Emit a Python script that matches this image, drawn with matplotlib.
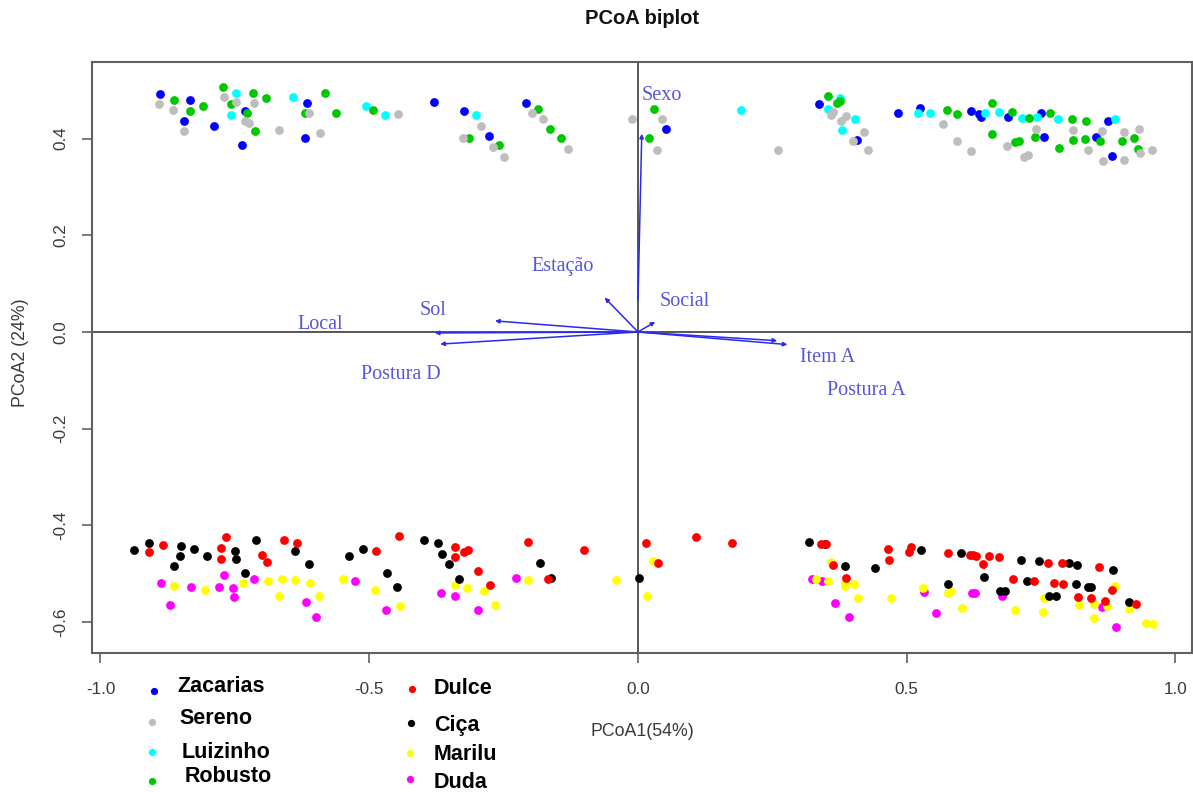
import matplotlib
matplotlib.use("Agg")
import matplotlib.pyplot as plt
from matplotlib.lines import Line2D

# ---- data ------------------------------------------------------------------
# upper group
zacarias_x = [-0.890, -0.833, -0.844, -0.788, -0.732, -0.737, -0.616, -0.620, -0.379, -0.323,
              -0.278, -0.209, 0.053, 0.336, 0.407, 0.483, 0.525, 0.620, 0.635, 0.638,
              0.688, 0.749, 0.755, 0.853, 0.874, 0.882]
zacarias_y = [0.492, 0.480, 0.437, 0.426, 0.458, 0.386, 0.473, 0.401, 0.475, 0.458,
              0.405, 0.473, 0.420, 0.471, 0.398, 0.453, 0.463, 0.458, 0.451, 0.444,
              0.444, 0.453, 0.403, 0.403, 0.437, 0.363]

luizinho_x = [-0.747, -0.757, -0.641, -0.506, -0.471, -0.301, 0.192, 0.376, 0.354, 0.404,
              0.380, 0.521, 0.543, 0.646, 0.672, 0.714, 0.743, 0.781, 0.888]
luizinho_y = [0.495, 0.449, 0.485, 0.468, 0.448, 0.449, 0.460, 0.483, 0.461, 0.440,
              0.418, 0.453, 0.453, 0.453, 0.455, 0.442, 0.445, 0.440, 0.440]

robusto_x = [-0.864, -0.833, -0.809, -0.773, -0.757, -0.716, -0.692, -0.727, -0.713, -0.583,
             -0.620, -0.561, -0.493, -0.314, -0.258, -0.186, -0.164, -0.143, 0.030, 0.020,
             0.353, 0.370, 0.375, 0.575, 0.594, 0.659, 0.696, 0.659, 0.701, 0.709,
             0.728, 0.766, 0.738, 0.807, 0.833, 0.809, 0.831, 0.784, 0.860, 0.900,
             0.923, 0.930]
robusto_y = [0.480, 0.458, 0.468, 0.507, 0.471, 0.495, 0.483, 0.452, 0.416, 0.495,
             0.453, 0.453, 0.460, 0.401, 0.386, 0.462, 0.420, 0.401, 0.462, 0.401,
             0.489, 0.473, 0.478, 0.460, 0.451, 0.473, 0.455, 0.409, 0.392, 0.394,
             0.442, 0.453, 0.403, 0.440, 0.437, 0.398, 0.400, 0.381, 0.395, 0.395,
             0.401, 0.379]

sereno_x = [-0.892, -0.866, -0.845, -0.771, -0.747, -0.714, -0.731, -0.724, -0.667, -0.612,
            -0.592, -0.446, -0.293, -0.325, -0.270, -0.249, -0.198, -0.176, -0.131, -0.011,
            0.045, 0.035, 0.260, 0.362, 0.360, 0.387, 0.377, 0.420, 0.400, 0.428,
            0.567, 0.594, 0.620, 0.687, 0.718, 0.725, 0.740, 0.810, 0.837, 0.864,
            0.866, 0.905, 0.933, 0.905, 0.934, 0.956]
sereno_y = [0.471, 0.460, 0.416, 0.485, 0.475, 0.473, 0.437, 0.433, 0.418, 0.453,
            0.411, 0.451, 0.426, 0.401, 0.383, 0.361, 0.452, 0.440, 0.379, 0.440,
            0.440, 0.377, 0.377, 0.456, 0.449, 0.447, 0.437, 0.414, 0.395, 0.376,
            0.431, 0.395, 0.375, 0.385, 0.361, 0.366, 0.420, 0.418, 0.376, 0.416,
            0.354, 0.413, 0.420, 0.356, 0.371, 0.376]

# lower group
duda_x = [-0.888, -0.870, -0.831, -0.780, -0.771, -0.753, -0.751, -0.714, -0.618, -0.599,
          -0.526, -0.469, -0.366, -0.341, -0.297, -0.227, 0.323, 0.343, 0.366, 0.392,
          0.532, 0.554, 0.622, 0.627, 0.677, 0.864, 0.890]
duda_y = [-0.520, -0.565, -0.528, -0.528, -0.502, -0.530, -0.548, -0.511, -0.559, -0.589,
          -0.514, -0.576, -0.540, -0.545, -0.575, -0.508, -0.510, -0.516, -0.560, -0.590,
          -0.538, -0.582, -0.540, -0.540, -0.545, -0.568, -0.611]

marilu_x = [-0.864, -0.806, -0.735, -0.688, -0.663, -0.667, -0.639, -0.610, -0.594, -0.548,
            -0.489, -0.442, -0.341, -0.319, -0.286, -0.266, -0.205, -0.041, 0.028, 0.016,
            0.360, 0.385, 0.386, 0.401, 0.331, 0.353, 0.409, 0.470, 0.530, 0.576,
            0.582, 0.602, 0.701, 0.755, 0.753, 0.821, 0.849, 0.849, 0.873, 0.888,
            0.914, 0.945, 0.958]
marilu_y = [-0.525, -0.533, -0.520, -0.516, -0.511, -0.547, -0.513, -0.520, -0.547, -0.510,
            -0.533, -0.567, -0.524, -0.530, -0.535, -0.565, -0.513, -0.513, -0.473, -0.547,
            -0.476, -0.519, -0.526, -0.522, -0.510, -0.516, -0.550, -0.550, -0.529, -0.540,
            -0.535, -0.571, -0.576, -0.551, -0.579, -0.564, -0.562, -0.591, -0.567, -0.525,
            -0.572, -0.602, -0.604]

cica_x = [-0.938, -0.910, -0.863, -0.851, -0.852, -0.826, -0.801, -0.749, -0.747, -0.731,
          -0.711, -0.639, -0.613, -0.537, -0.511, -0.467, -0.448, -0.398, -0.372, -0.364,
          -0.352, -0.333, -0.182, -0.162, 0.002, 0.319, 0.347, 0.385, 0.441, 0.527,
          0.601, 0.643, 0.577, 0.673, 0.682, 0.712, 0.723, 0.746, 0.765, 0.778,
          0.801, 0.817, 0.814, 0.838, 0.842, 0.883, 0.913]
cica_y = [-0.451, -0.436, -0.485, -0.442, -0.463, -0.448, -0.463, -0.453, -0.469, -0.498,
          -0.431, -0.453, -0.480, -0.463, -0.448, -0.498, -0.528, -0.431, -0.436, -0.460,
          -0.480, -0.511, -0.478, -0.508, -0.508, -0.434, -0.438, -0.485, -0.489, -0.451,
          -0.457, -0.506, -0.522, -0.535, -0.535, -0.471, -0.514, -0.474, -0.545, -0.545,
          -0.478, -0.482, -0.522, -0.528, -0.528, -0.493, -0.558]

dulce_x = [-0.910, -0.884, -0.766, -0.775, -0.775, -0.700, -0.690, -0.659, -0.634, -0.488,
           -0.444, -0.341, -0.340, -0.323, -0.317, -0.297, -0.276, -0.205, -0.168, -0.100,
           0.014, 0.037, 0.108, 0.175, 0.340, 0.349, 0.362, 0.387, 0.465, 0.467,
           0.505, 0.508, 0.577, 0.618, 0.623, 0.628, 0.641, 0.653, 0.672, 0.697,
           0.737, 0.763, 0.774, 0.791, 0.788, 0.857, 0.818, 0.843, 0.869, 0.882,
           0.926]
dulce_y = [-0.456, -0.441, -0.423, -0.447, -0.469, -0.462, -0.476, -0.431, -0.436, -0.453,
           -0.421, -0.445, -0.466, -0.455, -0.450, -0.495, -0.524, -0.434, -0.511, -0.451,
           -0.437, -0.478, -0.424, -0.436, -0.438, -0.438, -0.482, -0.509, -0.448, -0.471,
           -0.455, -0.445, -0.457, -0.461, -0.462, -0.463, -0.479, -0.463, -0.466, -0.510,
           -0.516, -0.478, -0.520, -0.522, -0.478, -0.486, -0.549, -0.551, -0.556, -0.534,
           -0.562]

# (name, color, x, y) in drawing order
groups = [
    ("Zacarias", "#0000FF", zacarias_x, zacarias_y),
    ("Luizinho", "#00FFFF", luizinho_x, luizinho_y),
    ("Robusto", "#00C800", robusto_x, robusto_y),
    ("Sereno", "#BEBEBE", sereno_x, sereno_y),
    ("Duda", "#FF00FF", duda_x, duda_y),
    ("Marilu", "#FFFF00", marilu_x, marilu_y),
    ("Ciça", "#000000", cica_x, cica_y),
    ("Dulce", "#FF0000", dulce_x, dulce_y),
]

# biplot vectors
vec_x0 = [0, 0, 0, 0, 0, 0, 0, 0.0]
vec_y0 = [0, 0, 0, 0, 0, 0, 0, 0.066]
vec_x1 = [-0.378, -0.266, -0.368, -0.062, 0.032, 0.278, 0.259, 0.007]
vec_y1 = [-0.002, 0.023, -0.025, 0.071, 0.021, -0.026, -0.018, 0.410]

var_names = ["Sexo", "Estação", "Social", "Sol", "Local", "Postura D", "Item A", "Postura A"]
var_x = [0.045, -0.140, 0.087, -0.381, -0.592, -0.442, 0.353, 0.424]
var_y = [0.489, 0.135, 0.063, 0.044, 0.016, -0.087, -0.052, -0.122]

x_ticks = [-1.0, -0.5, 0.0, 0.5, 1.0]
y_ticks = [-0.6, -0.4, -0.2, 0.0, 0.2, 0.4]

# legend layout: (name, color, marker px, text px) in reference pixels
legend_items = [
    ("Zacarias", "#0000FF", (154, 691), (177, 686)),
    ("Sereno", "#BEBEBE", (152, 722), (179, 718)),
    ("Luizinho", "#00FFFF", (152, 752), (182, 753)),
    ("Robusto", "#00C800", (152, 781), (185, 777)),
    ("Dulce", "#FF0000", (412, 689), (434, 689)),
    ("Ciça", "#000000", (411, 723), (434, 726)),
    ("Marilu", "#FFFF00", (410, 753), (434, 755)),
    ("Duda", "#FF00FF", (410, 779), (434, 782)),
]

W, H = 1193, 792
SANS = ["Liberation Sans", "DejaVu Sans"]
SERIF = ["Liberation Serif", "DejaVu Serif"]
plt.rcParams["font.family"] = SANS


def fx(px):
    return px / W


def fy(py):
    return 1 - py / H


fig = plt.figure(figsize=(W / 100, H / 100), dpi=100)
ax = fig.add_axes([fx(92), fy(653), fx(1192) - fx(92), fy(62) - fy(653)])

for name, color, xs, ys in groups:
    ax.scatter(xs, ys, s=40, color=color, linewidths=0, zorder=3)

ax.axhline(0, color="#3a3a3a", lw=1.2, zorder=1)
ax.axvline(0, color="#3a3a3a", lw=1.2, zorder=1)

for x0, y0, x1, y1 in zip(vec_x0, vec_y0, vec_x1, vec_y1):
    ax.annotate("", xy=(x1, y1), xytext=(x0, y0),
                arrowprops=dict(arrowstyle="-|>", color="#2a2af0", lw=1.1,
                                mutation_scale=6, shrinkA=0, shrinkB=0),
                zorder=4)
for name, x, y in zip(var_names, var_x, var_y):
    ax.text(x, y, name, family=SERIF, fontsize=14.5, color="#5656DC",
            ha="center", va="center", zorder=5)

ax.set_xlim(-1.0158, 1.0307)
ax.set_ylim(-0.6639, 0.5584)
ax.set_xticks(x_ticks)
ax.set_xticklabels([f"{t:.1f}" for t in x_ticks])
ax.set_yticks(y_ticks)
ax.set_yticklabels([f"{t:.1f}" for t in y_ticks], rotation=90, va="center")
ax.tick_params(axis="both", direction="out", length=7, width=1.1, color="#555555",
               labelsize=12.3, labelcolor="#3a3a3a")
ax.tick_params(axis="x", pad=14)
ax.tick_params(axis="y", pad=10)
for sp in ax.spines.values():
    sp.set_color("#606060")
    sp.set_linewidth(1.5)

fig.text(fx(642), fy(19), "PCoA biplot", ha="center", va="center",
         fontsize=14.5, fontweight="bold", color="#111111")
fig.text(fx(642), fy(732), "PCoA1(54%)", ha="center", va="center",
         fontsize=12.8, color="#3a3a3a")
fig.text(fx(21), fy(353), "PCoA2 (24%)", ha="center", va="center",
         rotation=90, fontsize=12.8, color="#3a3a3a")

for name, color, (mx, my), (tx, ty) in legend_items:
    fig.add_artist(Line2D([fx(mx)], [fy(my)], marker="o", markersize=4.2,
                          color=color, linestyle="none"))
    fig.text(fx(tx), fy(ty), name, ha="left", va="center", fontsize=15.5,
             fontweight="bold", color="#000000")

fig.savefig("out.png", dpi=100)
